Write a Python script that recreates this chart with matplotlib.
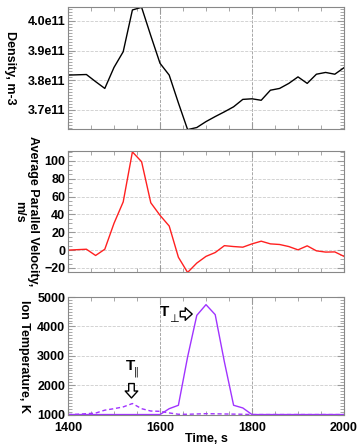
import matplotlib
matplotlib.use("Agg")
import matplotlib.pyplot as plt
from matplotlib.ticker import MultipleLocator, NullFormatter

plt.rcParams['font.family'] = ['Liberation Sans', 'DejaVu Sans']
plt.rcParams['font.weight'] = 'bold'

# time axis, s
time = list(range(1400, 2001, 20))

# density, m-3
density = [3.817e11, 3.818e11, 3.819e11, 3.795e11, 3.772e11, 3.843e11, 3.896e11,
           4.037e11, 4.046e11, 3.950e11, 3.857e11, 3.817e11, 3.723e11, 3.633e11,
           3.640e11, 3.660e11, 3.677e11, 3.693e11, 3.710e11, 3.735e11, 3.737e11,
           3.732e11, 3.766e11, 3.772e11, 3.789e11, 3.811e11, 3.789e11, 3.820e11,
           3.826e11, 3.820e11, 3.842e11]

# average parallel velocity, m/s
velocity = [0, 0.5, 1, -6, 1, 30, 54, 110, 99, 53, 39, 27, -8, -25, -14.5, -7,
            -2.7, 5, 4, 3.3, 7, 10, 7, 6.3, 4, 0.3, 4.8, -0.8, -2.2, -2, -7]

# ion temperatures, K
t_perp = [1000, 1000, 1000, 1000, 1000, 1000, 1000, 1000, 1000, 1000, 1000, 1200,
          1316, 2960, 4376, 4740, 4400, 2790, 1316, 1225, 1000, 1000, 1000, 1000,
          1000, 1000, 1000, 1000, 1000, 1000, 1000]
t_par = [1000, 1010, 1030, 1050, 1150, 1200, 1260, 1375, 1200, 1120, 1110, 1055,
         1010, 1010, 1020, 1030, 1025, 1020, 1015, 1010, 1000, 1000, 1000, 1000,
         1000, 1000, 1000, 1000, 1000, 1000, 1000]

fig = plt.figure(figsize=(3.6, 4.44), dpi=100)
left, width = 68 / 360, 276 / 360
ax1 = fig.add_axes([left, 1 - 129 / 444, width, 122 / 444])
ax2 = fig.add_axes([left, 1 - 272 / 444, width, 121 / 444])
ax3 = fig.add_axes([left, 1 - 415 / 444, width, 118 / 444])


def style(ax, major, minor):
    ax.set_xlim(1400, 2000)
    ax.xaxis.set_major_locator(MultipleLocator(200))
    ax.xaxis.set_minor_locator(MultipleLocator(50))
    ax.yaxis.set_major_locator(MultipleLocator(major))
    ax.yaxis.set_minor_locator(MultipleLocator(minor))
    ax.tick_params(which='both', direction='in', top=True, right=True,
                   color='#999999', labelsize=9, pad=2)
    ax.tick_params(axis='x', pad=5)
    ax.tick_params(which='major', length=5)
    ax.tick_params(which='minor', length=3)
    ax.grid(axis='y', color='#cccccc', linestyle='--', linewidth=0.6)
    ax.grid(axis='x', color='#999999', linestyle='--', linewidth=0.6)
    for s in ax.spines.values():
        s.set_color('#888888')


ax1.plot(time, density, color='black', linewidth=1)
style(ax1, 0.1e11, 0.01e11)
ax1.set_ylim(3.635e11, 4.047e11)
ax1.set_yticks([3.7e11, 3.8e11, 3.9e11, 4.0e11])
ax1.set_yticklabels(['3.7e11', '3.8e11', '3.9e11', '4.0e11'])
ax1.xaxis.set_major_formatter(NullFormatter())
ax1.set_ylabel('Density, m-3', rotation=270, fontsize=9, fontweight='bold', labelpad=17)

ax2.plot(time, velocity, color='#ff2020', linewidth=1)
style(ax2, 20, 5)
ax2.set_ylim(-24.5, 111)
ax2.xaxis.set_major_formatter(NullFormatter())
ax2.set_ylabel('Average Parallel Velocity,\nm/s', rotation=270, fontsize=9,
               fontweight='bold', labelpad=22)

ax3.plot(time, t_perp, color='#a033ff', linewidth=1)
ax3.plot(time, t_par, color='#a033ff', linewidth=1, linestyle=(0, (3, 2)))
style(ax3, 1000, 100)
ax3.set_ylim(985, 5000)
ax3.set_ylabel('Ion Temperature, K', rotation=270, fontsize=9, fontweight='bold', labelpad=14)
ax3.set_xlabel('Time, s', fontsize=9, fontweight='bold', labelpad=-1)

# labels with arrows
ax3.text(1620, 4480, 'T', fontsize=11, ha='right', va='center')
ax3.text(1620, 4250, '\u22a5', fontsize=8, ha='left', va='center',
         family='DejaVu Sans', fontweight='normal')
ax3.annotate('', xy=(1676, 4420), xytext=(1638, 4420),
             arrowprops=dict(arrowstyle='simple,head_width=0.9,tail_width=0.4',
                             facecolor='white', edgecolor='black', lw=1))
ax3.text(1535, 2650, 'T', fontsize=11, ha='center', va='center')
ax3.text(1544, 2450, '\u2016', fontsize=7, ha='left', va='center',
         family='DejaVu Sans', fontweight='normal')
ax3.annotate('', xy=(1538, 1470), xytext=(1538, 2150),
             arrowprops=dict(arrowstyle='simple,head_width=0.9,tail_width=0.4',
                             facecolor='white', edgecolor='black', lw=1))

fig.savefig('out.png', dpi=100)
